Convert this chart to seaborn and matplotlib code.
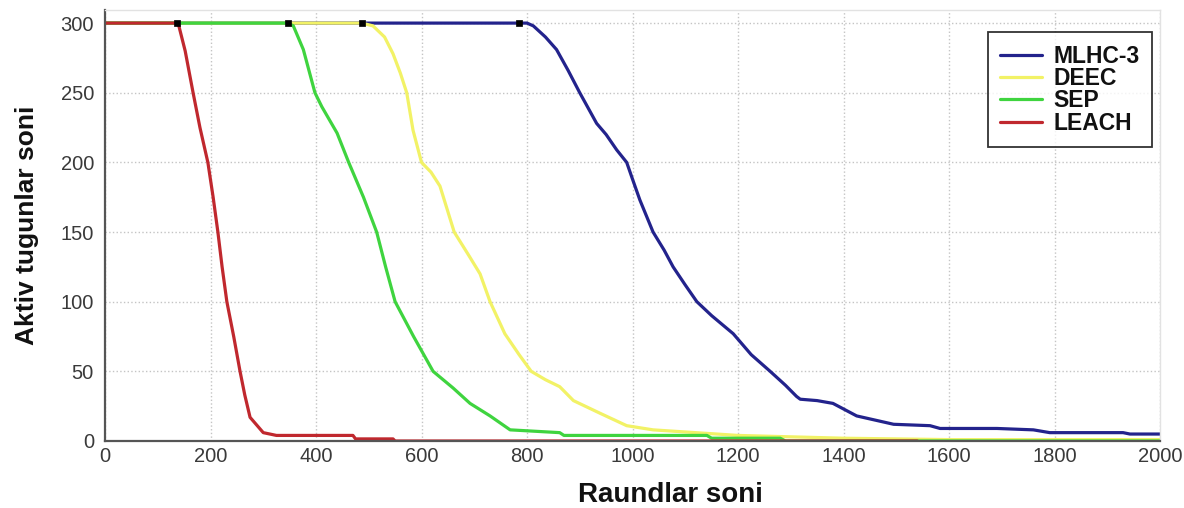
import numpy as np
import pandas as pd
import matplotlib
matplotlib.use("Agg")
import matplotlib.pyplot as plt
import seaborn as sns

# ---- data ----
protocols = ["MLHC-3", "DEEC", "SEP", "LEACH"]

mlhc_rounds = [0, 785, 800, 812, 835, 856, 878, 900, 932, 950, 970, 989, 1000, 1014, 1039, 1060,
               1077, 1100, 1122, 1150, 1191, 1225, 1261, 1290, 1311, 1318, 1350, 1380, 1425, 1460,
               1495, 1564, 1583, 1691, 1760, 1791, 1930, 1943, 2000]
mlhc_alive = [300, 300, 300, 298, 290, 281, 266, 250, 228, 220, 209, 200, 188, 173, 150, 137,
              125, 112, 100, 90, 77, 62, 50, 40, 32, 30, 29, 27, 18, 15,
              12, 11, 9, 9, 8, 6, 6, 5, 5]

deec_rounds = [0, 487, 508, 530, 546, 560, 572, 584, 600, 618, 635, 662, 690, 711, 730, 758,
               785, 808, 835, 862, 888, 938, 989, 1039, 1200, 1400, 1600, 2000]
deec_alive = [300, 300, 298, 290, 278, 264, 250, 223, 200, 193, 183, 150, 133, 120, 100, 77,
              62, 50, 44, 39, 29, 20, 11, 8, 4, 2, 1, 1]

sep_rounds = [0, 347, 357, 376, 398, 411, 440, 462, 490, 515, 532, 550, 585, 622, 660, 692,
              730, 768, 862, 870, 1141, 1150, 1280, 1290, 2000]
sep_alive = [300, 300, 298, 281, 250, 240, 221, 200, 175, 150, 125, 100, 75, 50, 38, 27,
             18, 8, 6, 4, 4, 2, 2, 0, 0]

leach_rounds = [0, 136, 140, 152, 167, 180, 195, 205, 214, 222, 231, 244, 256, 265, 275, 300,
                325, 470, 475, 546, 550, 1540]
leach_alive = [300, 300, 298, 280, 250, 225, 200, 175, 150, 125, 100, 75, 50, 33, 17, 6,
               4, 4, 1.5, 1.5, 0, 0]

first_dead_rounds = [785, 487, 347, 136]
first_dead_alive = [300, 300, 300, 300]

x_ticks = list(range(0, 2001, 200))
y_ticks = list(range(0, 301, 50))

colors = {"MLHC-3": "#23238c", "DEEC": "#f2f266", "SEP": "#3fd43f", "LEACH": "#c0282e"}

frames = []
for name, r, a in [("MLHC-3", mlhc_rounds, mlhc_alive), ("DEEC", deec_rounds, deec_alive),
                   ("SEP", sep_rounds, sep_alive), ("LEACH", leach_rounds, leach_alive)]:
    frames.append(pd.DataFrame({"round": r, "alive": a, "protocol": name}))
df = pd.concat(frames, ignore_index=True)

sns.set_theme(style="white")
plt.rcParams["font.family"] = ["Liberation Sans", "DejaVu Sans"]

fig = plt.figure(figsize=(11.84, 5.08), dpi=100)
ax = fig.add_axes([105 / 1184, 1 - 441 / 508, 1055 / 1184, 431 / 508])

for name in protocols:
    sub = df[df["protocol"] == name]
    sns.lineplot(data=sub, x="round", y="alive", color=colors[name], linewidth=2.3,
                 label=name, ax=ax, estimator=None, sort=False)

sns.scatterplot(x=first_dead_rounds, y=first_dead_alive, marker="s", color="black",
                s=24, edgecolor="black", linewidth=0.5, ax=ax, zorder=5, legend=False)

ax.set_xlim(0, 2000)
ax.set_ylim(0, 309.4)
ax.set_xticks(x_ticks)
ax.set_yticks(y_ticks)
ax.set_xticklabels([str(t) for t in x_ticks])
ax.set_yticklabels([str(t) for t in y_ticks])
ax.tick_params(direction="in", length=6, width=1.2, colors="#3a3a3a", labelsize=14.5,
               top=False, right=False)
ax.tick_params(axis="y", pad=8)
ax.tick_params(axis="x", pad=4)
ax.grid(True, linestyle=":", color="#c4c4c4", linewidth=1)

for side in ["left", "bottom"]:
    ax.spines[side].set_color("#555555")
    ax.spines[side].set_linewidth(1.6)
for side in ["top", "right"]:
    ax.spines[side].set_color("#e2e2e2")
    ax.spines[side].set_linewidth(1.0)

ax.set_xlabel("Raundlar soni", fontsize=20, fontweight="bold", labelpad=12, color="#111111")
ax.set_ylabel("Aktiv tugunlar soni", fontsize=19, fontweight="bold", color="#111111")
ax.xaxis.label.set_x(0.536)
ax.yaxis.set_label_coords(-0.0625, 0.5)

leg = ax.legend(loc="upper right", bbox_to_anchor=(0.9924, 0.949), borderaxespad=0,
                frameon=True, fancybox=False,
                edgecolor="black", prop={"weight": "bold", "size": 16.5}, handlelength=1.8,
                borderpad=0.55, labelspacing=-0.03, handletextpad=0.5)
leg.get_frame().set_linewidth(1.3)
for txt in leg.get_texts():
    txt.set_color("#111111")

fig.savefig("out.png", dpi=100)
